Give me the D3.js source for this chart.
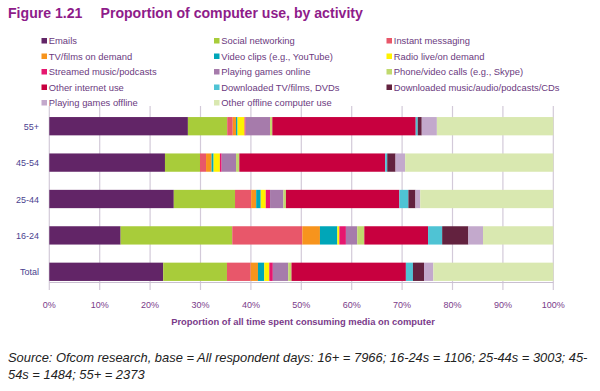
<!DOCTYPE html>
<html><head><meta charset="utf-8">
<script src="https://cdn.jsdelivr.net/npm/d3@7"></script>
<style>body{margin:0;background:#fff;} svg{display:block;font-family:Arial,"Liberation Sans",sans-serif;}</style>
</head><body>
<svg id="c" width="600" height="391"></svg>
<script>
const categories = ["55+", "45-54", "25-44", "16-24", "Total"];
const seriesNames = ["Emails","Social networking","Instant messaging","TV/films on demand","Video clips (e.g., YouTube)","Radio live/on demand","Streamed music/podcasts","Playing games online","Phone/video calls (e.g., Skype)","Other internet use","Downloaded TV/films, DVDs","Downloaded music/audio/podcasts/CDs","Playing games offline","Other offline computer use"];
const seriesColors = ["#622567","#a8cc3a","#e8576a","#f7941d","#00a6b8","#fff200","#e6176f","#a67bab","#c0d96e","#c8003f","#4fc3d4","#63223f","#c3a9cc","#d9e8b0"];
// values per category, in series order (percent)
const v55 = [27.5,7.8,1.1,0.65,0.3,1.4,0.2,4.85,0.45,28.45,0.4,0.8,3.0,23.1];
const v4554 = [22.95,6.95,1.2,1.1,0.4,1.25,0.35,2.85,0.65,28.95,0.4,1.65,1.9,29.4];
const v2544 = [24.7,12.15,3.2,1.0,0.9,1.0,0.85,2.65,0.5,22.5,1.8,1.4,0.95,26.4];
const v1624 = [14.15,22.15,13.9,3.5,3.45,0.4,1.3,2.25,1.4,12.65,2.8,5.2,2.9,13.95];
const vTotal = [22.6,12.65,4.7,1.45,1.25,1.0,0.7,3.05,0.65,22.7,1.4,2.2,1.85,23.8];
const values = [v55, v4554, v2544, v1624, vTotal];
const xTicks = [0,10,20,30,40,50,60,70,80,90,100];

const svg = d3.select("#c");
const purple = "#8e1c8a";

// Title
svg.append("text").attr("x",8).attr("y",17.5).attr("fill",purple)
  .attr("font-size",14.1).attr("font-weight","bold").text("Figure 1.21");
svg.append("text").attr("x",100.5).attr("y",17.5).attr("fill",purple)
  .attr("font-size",14.1).attr("font-weight","bold").text("Proportion of computer use, by activity");

// Legend
const legCols = [41.5, 214, 386.5];
const legRows = [41, 56.5, 72, 87.5, 103];
seriesNames.forEach((n,i)=>{
  const c = i%3, r = Math.floor(i/3);
  const g = svg.append("g").attr("transform",`translate(${legCols[c]},${legRows[r]})`);
  g.append("rect").attr("x",0).attr("y",-3).attr("width",5.5).attr("height",5.5).attr("fill",seriesColors[i]);
  g.append("text").attr("x",7.3).attr("y",3.4).attr("font-size",9.4).attr("fill","#6b3a80").text(n);
});

const x = d3.scaleLinear().domain([0,100]).range([49.3,553.3]);
const y = d3.scaleBand().domain(categories).range([108,290]).paddingInner(0.5).paddingOuter(0.25);

// Grid
svg.append("g").selectAll("line").data(xTicks).join("line")
  .attr("x1",d=>x(d)).attr("x2",d=>x(d)).attr("y1",106).attr("y2",290)
  .attr("stroke","#d3cad9").attr("stroke-width",1.2);

// Bars
const stackData = categories.map((c,ci)=>{
  const o = {cat:c};
  seriesNames.forEach((s,si)=>o[s]=values[ci][si]);
  return o;
});
const stack = d3.stack().keys(seriesNames)(stackData);
const bandH = 18.3;
svg.append("g").selectAll("g").data(stack).join("g")
  .attr("fill",(d,i)=>seriesColors[i])
  .selectAll("rect").data(d=>d).join("rect")
  .attr("x",d=>x(d[0])).attr("width",d=>Math.max(0,x(d[1])-x(d[0])))
  .attr("y",d=>y(d.data.cat)+y.bandwidth()/2-bandH/2).attr("height",bandH);

// axis line
svg.append("line").attr("x1",x(0)).attr("x2",x(100)).attr("y1",282.5).attr("y2",282.5)
  .attr("stroke","#c9bfd0").attr("stroke-width",1);

// Y labels
svg.append("g").selectAll("text").data(categories).join("text")
  .attr("x",39).attr("y",d=>y(d)+y.bandwidth()/2+3.5).attr("text-anchor","end")
  .attr("font-size",9).attr("fill","#4b3f8f").text(d=>d);

// X tick labels
svg.append("g").selectAll("text").data(xTicks).join("text")
  .attr("x",d=>x(d)).attr("y",308).attr("text-anchor","middle")
  .attr("font-size",9).attr("fill","#7a3b8a").text(d=>d+"%");

svg.append("text").attr("x",303).attr("y",325).attr("text-anchor","middle")
  .attr("font-size",9.4).attr("font-weight","bold").attr("fill","#7a3b8a")
  .text("Proportion of all time spent consuming media on computer");

// Source
svg.append("text").attr("x",8).attr("y",362).attr("font-size",12.9).attr("font-style","italic").attr("fill","#222")
  .text("Source: Ofcom research, base = All respondent days: 16+ = 7966; 16-24s = 1106; 25-44s = 3003; 45-");
svg.append("text").attr("x",8).attr("y",378.5).attr("font-size",12.9).attr("font-style","italic").attr("fill","#222")
  .text("54s = 1484; 55+ = 2373");
</script>
</body></html>
